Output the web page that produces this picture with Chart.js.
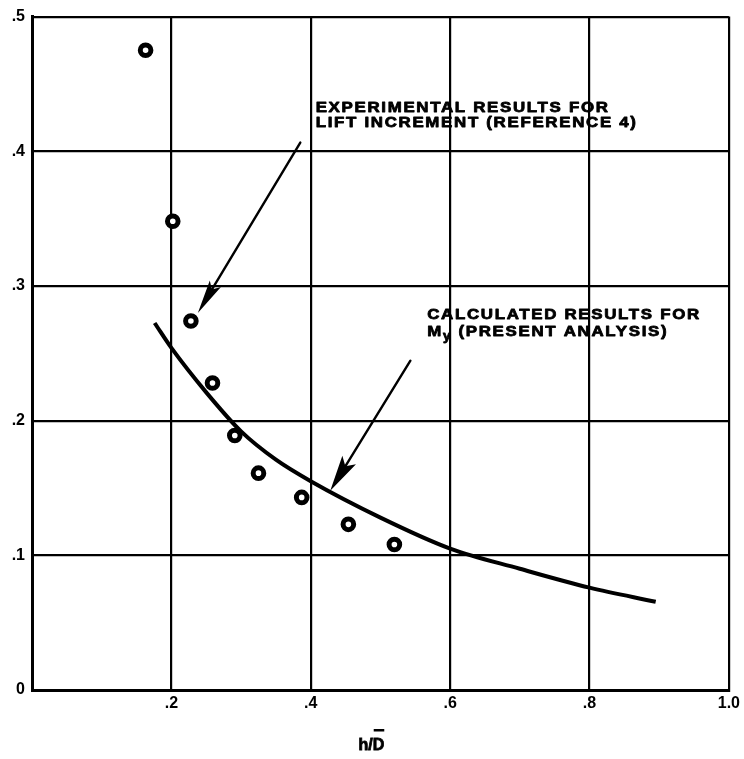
<!DOCTYPE html>
<html><head><meta charset="utf-8">
<script src="https://cdn.jsdelivr.net/npm/chart.js@4/dist/chart.umd.min.js"></script>
<style>html,body{margin:0;padding:0;background:#fff;}#wrap{width:744px;height:759px;}</style>
</head><body><div id="wrap"><canvas id="c" width="744" height="759"></canvas></div>
<script>
// Experimental results for lift increment (Reference 4)
const expX = [0.163, 0.202, 0.228, 0.259, 0.291, 0.325, 0.387, 0.454, 0.520];
const expY = [0.475, 0.348, 0.274, 0.228, 0.189, 0.161, 0.143, 0.123, 0.108];
// Calculated results for M_y (present analysis)
const calcX = [0.176, 0.200, 0.250, 0.300, 0.350, 0.400, 0.500, 0.600, 0.700, 0.800, 0.895];
const calcY = [0.2725, 0.254, 0.221, 0.192, 0.171, 0.155, 0.128, 0.105, 0.090, 0.076, 0.0655];
// Tick labels
const xTickLabels = ['', '.2', '.4', '.6', '.8', '1.0'];
const yTickLabels = ['0', '.1', '.2', '.3', '.4', '.5'];
const xTitle = 'h/D';
const note1 = ['EXPERIMENTAL RESULTS FOR', 'LIFT INCREMENT (REFERENCE 4)'];
const note2 = ['CALCULATED RESULTS FOR', ['M', 'y', ' (PRESENT ANALYSIS)']];

const FONT = '"Liberation Sans", Arial, sans-serif';

const annot = {
  id: 'annot',
  afterDatasetsDraw(chart) {
    const ctx = chart.ctx, xs = chart.scales.x, ys = chart.scales.y;
    const px = v => xs.getPixelForValue(v), py = v => ys.getPixelForValue(v);
    ctx.save();
    ctx.fillStyle = '#000'; ctx.strokeStyle = '#000';
    function arrow(x0, y0, x1, y1, len, hw, lw) {
      const a = px(x0), b = py(y0), c = px(x1), d = py(y1);
      const dx = c - a, dy = d - b, L = Math.hypot(dx, dy), ux = dx / L, uy = dy / L;
      ctx.lineWidth = lw; ctx.lineCap = 'round';
      ctx.beginPath(); ctx.moveTo(a, b); ctx.lineTo(c - ux * len * 0.6, d - uy * len * 0.6); ctx.stroke();
      const bx = c - ux * len, by = d - uy * len;
      ctx.beginPath();
      ctx.moveTo(c, d);
      ctx.lineTo(bx - uy * hw, by + ux * hw);
      ctx.lineTo(c - ux * len * 0.8, d - uy * len * 0.8);
      ctx.lineTo(bx + uy * hw, by - ux * hw);
      ctx.closePath(); ctx.fill();
    }
    arrow(0.385, 0.4065, 0.238, 0.280, 34, 6.5, 2.4);
    arrow(0.543, 0.2445, 0.428, 0.148, 36, 8, 2.4);

    const NF = 'bold 15px ' + FONT;
    ctx.font = NF;
    ctx.letterSpacing = '1.5px';
    const hs = 294 / ctx.measureText(note1[0]).width;
    function txt(s, x, y, font) {
      ctx.save(); ctx.font = font || NF; ctx.letterSpacing = '1.5px';
      ctx.translate(x, y); ctx.scale(hs, 1);
      ctx.lineWidth = 0.8; ctx.lineJoin = 'round';
      ctx.fillText(s, 0, 0); ctx.strokeText(s, 0, 0);
      const w = ctx.measureText(s).width * hs; ctx.restore(); return w;
    }
    ctx.textBaseline = 'alphabetic'; ctx.textAlign = 'left';
    let x1 = px(0.407);
    txt(note1[0], x1, 112);
    txt(note1[1], x1, 127);
    let x2 = px(0.567);
    txt(note2[0], x2, 319);
    let w = txt(note2[1][0], x2, 336);
    let w2 = txt(note2[1][1], x2 + w, 340, 'bold 12px ' + FONT);
    txt(note2[1][2], x2 + w + w2, 336);
    ctx.letterSpacing = '0px';

    // x axis title with overbar on D
    ctx.font = 'bold 16px ' + FONT;
    ctx.lineWidth = 0.8;
    const tw = ctx.measureText(xTitle).width;
    const cx = px(0.487), base = chart.chartArea.bottom + 60;
    ctx.fillText(xTitle, cx - tw / 2, base);
    ctx.strokeText(xTitle, cx - tw / 2, base);
    const dw = ctx.measureText('D').width;
    ctx.fillRect(cx + tw / 2 - dw + 1, base - 21, dw - 1, 2.5);
    ctx.restore();
  }
};

const chart = new Chart(document.getElementById('c'), {
  type: 'scatter',
  data: {
    datasets: [
      {
        label: 'calc', type: 'line',
        data: calcX.map((x, i) => ({ x, y: calcY[i] })),
        borderColor: '#000', borderWidth: 4, pointRadius: 0,
        cubicInterpolationMode: 'monotone', fill: false
      },
      {
        label: 'exp',
        data: expX.map((x, i) => ({ x, y: expY[i] })),
        pointRadius: 5.3, borderWidth: 5, borderColor: '#000', backgroundColor: '#fff',
        pointHoverRadius: 5.3
      },
      {
        label: 'expdot',
        data: expX.map((x, i) => ({ x, y: expY[i] })),
        pointRadius: 1.6, borderWidth: 0, backgroundColor: '#000'
      }
    ]
  },
  options: {
    responsive: false, animation: false, devicePixelRatio: 1,
    layout: { padding: { top: 11, right: 14, left: 0, bottom: 0 } },
    plugins: { legend: { display: false }, tooltip: { enabled: false } },
    scales: {
      x: {
        type: 'linear', min: 0, max: 1,
        afterFit: s => { s.height = 69; },
        grid: { color: '#000', lineWidth: 2.2, drawTicks: false },
        border: { display: true, color: '#000', width: 3 },
        ticks: {
          stepSize: 0.2, padding: 4, color: '#000',
          font: { family: FONT, size: 16, weight: 'bold' },
          callback: (v, i) => xTickLabels[i]
        }
      },
      y: {
        type: 'linear', min: 0, max: 0.5,
        afterFit: s => { s.width = 32; },
        grid: { color: '#000', lineWidth: 2.2, drawTicks: false },
        border: { display: true, color: '#000', width: 3 },
        ticks: {
          stepSize: 0.1, padding: 7, color: '#000',
          font: { family: FONT, size: 16, weight: 'bold' },
          callback: (v, i) => yTickLabels[i]
        }
      }
    }
  },
  plugins: [annot]
});
</script>
</body></html>
